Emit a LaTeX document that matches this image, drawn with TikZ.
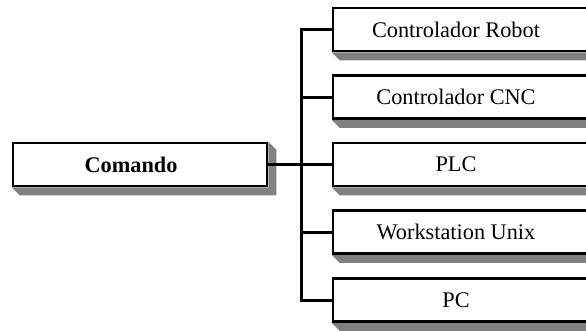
\documentclass[tikz,border=0pt]{standalone}
\usepackage{fontspec}
\setmainfont{Liberation Serif}
\usetikzlibrary{backgrounds,calc}
\definecolor{shadegray}{HTML}{808080}
\tikzset{
  box/.style={draw=black, line width=2.6pt, fill=white, inner sep=0pt,
    minimum height=43pt, font=\fontsize{22.3}{26}\selectfont},
  leftbox/.style={box, minimum width=254pt},
  rightbox/.style={box, minimum width=267pt},
  link/.style={line width=3pt, line join=miter}
}
\begin{document}
\begin{tikzpicture}[x=1pt,y=-1pt]
\useasboundingbox (0,0) rectangle (586,330);
\clip (0,0) rectangle (586,330);
\node[leftbox] (cmd) at (140,164.5) {\hspace*{-18pt}\textbf{Comando}};
\node[rightbox] (r1) at (466.5,29.5) {\hspace*{-21pt}Controlador Robot};
\node[rightbox] (r2) at (466.5,97) {\hspace*{-21pt}Controlador CNC};
\node[rightbox] (r3) at (466.5,164.5) {\hspace*{-21pt}PLC};
\node[rightbox] (r4) at (466.5,232) {\hspace*{-21pt}Workstation Unix};
\node[rightbox] (r5) at (466.5,300) {\hspace*{-21pt}PC};
\coordinate (bus) at (301,164.5);
\begin{scope}[on background layer]
\foreach \n in {cmd,r1,r2,r3,r4,r5}{
  \fill[shadegray] (\n.north east) -- ($(\n.north east)+(8,8)$) -- ($(\n.south east)+(8,8)$)
    -- ($(\n.south west)+(8,8)$) -- (\n.south west) -- (\n.south east) -- cycle;
}
\end{scope}
\draw[link] (cmd.east) -- (r3.west);
\draw[link] (r1.west) -| (bus) |- (r5.west);
\draw[link] (r2.west) -- (r2.west -| bus);
\draw[link] (r4.west) -- (r4.west -| bus);
\end{tikzpicture}
\end{document}
